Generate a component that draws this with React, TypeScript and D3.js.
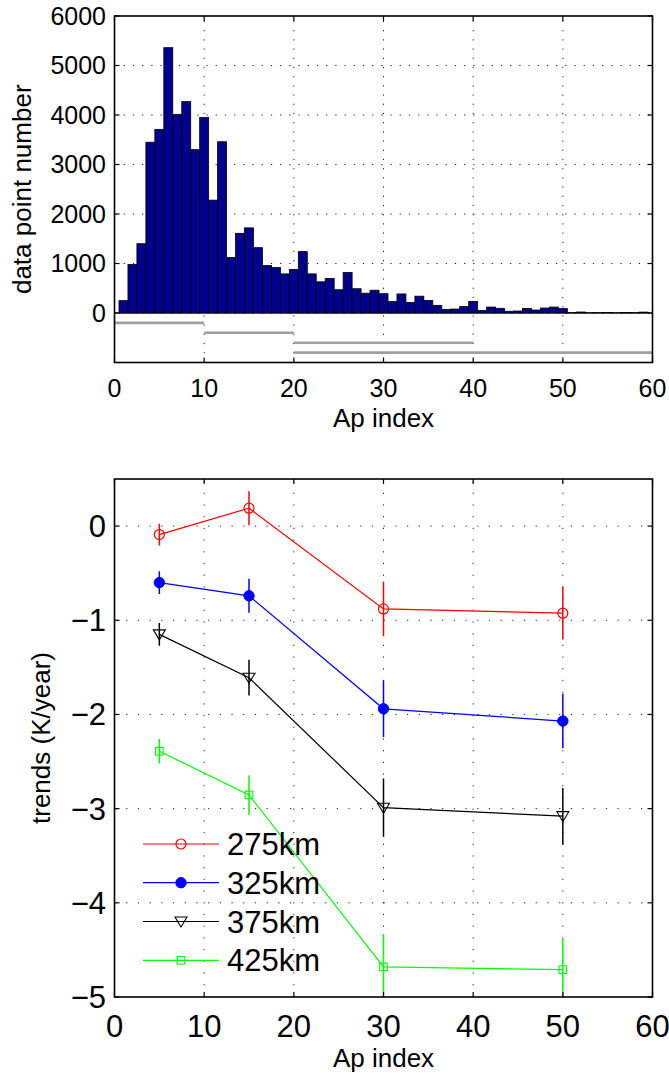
import React, { useRef, useEffect } from 'react';
import * as d3 from 'd3';

// histogram of Ap index (bins of width 1 centred on 1..59)
const histCounts = [
  250, 980, 1400, 3450, 3710, 5360, 4010, 4270, 3300, 3950,
  2280, 3460, 1120, 1610, 1720, 1320, 960, 920, 790, 880,
  1240, 790, 630, 700, 470, 820, 490, 400, 460, 390,
  230, 385, 215, 340, 255, 155, 70, 80, 130, 235,
  50, 120, 95, 35, 40, 90, 60, 100, 120, 90,
  8, 20, 6, 8, 12, 6, 12, 8, 18,
];

// Ap ranges used for the trend bins (grey bars under the histogram)
const rangeStart = [0, 10, 20, 20];
const rangeEnd = [10, 20, 40, 60];
const rangeLevel = [-200, -400, -600, -800];

// trends per Ap bin
const apBins = [5, 15, 30, 50];
const altitudes = ['275km', '325km', '375km', '425km'];
const trends275 = [-0.09, 0.19, -0.88, -0.925];
const trends325 = [-0.6, -0.74, -1.94, -2.07];
const trends375 = [-1.15, -1.61, -2.99, -3.08];
const trends425 = [-2.39, -2.855, -4.68, -4.71];
const errors275 = [0.115, 0.18, 0.29, 0.28];
const errors325 = [0.12, 0.18, 0.3, 0.29];
const errors375 = [0.12, 0.19, 0.31, 0.3];
const errors425 = [0.13, 0.21, 0.35, 0.33];
const seriesColors = ['#ff0000', '#0000ff', '#000000', '#00ff00'];
const seriesMarkers = ['circle', 'dot', 'triangle', 'square'];

const xTicks = [0, 10, 20, 30, 40, 50, 60];
const histYTicks = [0, 1000, 2000, 3000, 4000, 5000, 6000];
const trendYTicks = [-5, -4, -3, -2, -1, 0];

const FONT = '"Liberation Sans", Arial, Helvetica, sans-serif';

const drawFrame = (g, x, y, xt, yt, dash) => {
  const [x0, x1] = x.range();
  const [y0, y1] = y.range();
  const xd = x.domain();
  const yd = y.domain();

  // dotted grid
  g.append('g')
    .selectAll('line')
    .data(xt.filter(t => t > xd[0] && t < xd[1]))
    .enter().append('line')
    .attr('x1', d => x(d)).attr('x2', d => x(d))
    .attr('y1', y0).attr('y2', y1)
    .style('stroke', '#000').style('stroke-width', 0.9)
    .style('stroke-dasharray', dash);
  g.append('g')
    .selectAll('line')
    .data(yt.filter(t => t > yd[0] && t < yd[1]))
    .enter().append('line')
    .attr('y1', d => y(d)).attr('y2', d => y(d))
    .attr('x1', x0).attr('x2', x1)
    .style('stroke', '#000').style('stroke-width', 0.9)
    .style('stroke-dasharray', dash);
};

const drawBox = (g, x, y, xt, yt) => {
  const [x0, x1] = x.range();
  const [y0, y1] = y.range();
  const tick = 5;
  xt.forEach(t => {
    g.append('line').attr('x1', x(t)).attr('x2', x(t)).attr('y1', y0).attr('y2', y0 - tick)
      .style('stroke', '#000').style('stroke-width', 1.2);
    g.append('line').attr('x1', x(t)).attr('x2', x(t)).attr('y1', y1).attr('y2', y1 + tick)
      .style('stroke', '#000').style('stroke-width', 1.2);
  });
  yt.forEach(t => {
    g.append('line').attr('y1', y(t)).attr('y2', y(t)).attr('x1', x0).attr('x2', x0 + tick)
      .style('stroke', '#000').style('stroke-width', 1.2);
    g.append('line').attr('y1', y(t)).attr('y2', y(t)).attr('x1', x1).attr('x2', x1 - tick)
      .style('stroke', '#000').style('stroke-width', 1.2);
  });
  g.append('rect')
    .attr('x', x0).attr('y', y1)
    .attr('width', x1 - x0).attr('height', y0 - y1)
    .style('fill', 'none').style('stroke', '#000').style('stroke-width', 1.6);
};

const App = () => {
  const svgRef = useRef(null);

  useEffect(() => {
    const svg = d3.select(svgRef.current);
    svg.selectAll('*').remove();
    const fmt = d3.format('d');

    // ---------- top: histogram ----------
    const x1 = d3.scaleLinear().domain([0, 60]).range([114.5, 652.5]);
    const y1 = d3.scaleLinear().domain([-1000, 6000]).range([362.5, 16]);
    const top = svg.append('g');

    drawFrame(top, x1, y1, xTicks, histYTicks, '1.2,8');

    top.append('line')
      .attr('x1', x1(0)).attr('x2', x1(60))
      .attr('y1', y1(0)).attr('y2', y1(0))
      .style('stroke', '#000').style('stroke-width', 1);

    top.append('g')
      .selectAll('rect')
      .data(histCounts)
      .enter().append('rect')
      .attr('x', (d, i) => x1(i + 0.5))
      .attr('width', x1(1) - x1(0))
      .attr('y', d => y1(d))
      .attr('height', d => y1(0) - y1(d))
      .style('fill', '#00008f')
      .style('stroke', '#000')
      .style('stroke-width', 0.8);

    top.append('g')
      .selectAll('line')
      .data(rangeLevel)
      .enter().append('line')
      .attr('x1', (d, i) => x1(rangeStart[i]))
      .attr('x2', (d, i) => x1(rangeEnd[i]))
      .attr('y1', d => y1(d)).attr('y2', d => y1(d))
      .style('stroke', '#a0a0a0').style('stroke-width', 2.6);

    drawBox(top, x1, y1, xTicks, histYTicks);

    top.append('g')
      .selectAll('text')
      .data(xTicks)
      .enter().append('text')
      .attr('x', d => x1(d)).attr('y', 396.5)
      .attr('text-anchor', 'middle')
      .style('font-family', FONT).style('font-size', '25px')
      .text(d => fmt(d));

    top.append('g')
      .selectAll('text')
      .data(histYTicks)
      .enter().append('text')
      .attr('x', 106).attr('y', d => y1(d) + 8.8)
      .attr('text-anchor', 'end')
      .style('font-family', FONT).style('font-size', '25px')
      .text(d => fmt(d));

    top.append('text')
      .attr('x', (x1(0) + x1(60)) / 2).attr('y', 427)
      .attr('text-anchor', 'middle')
      .style('font-family', FONT).style('font-size', '26px')
      .text('Ap index');

    top.append('text')
      .attr('transform', `translate(31,${(y1(-1000) + y1(6000)) / 2}) rotate(-90)`)
      .attr('text-anchor', 'middle')
      .style('font-family', FONT).style('font-size', '26px')
      .text('data point number');

    // ---------- bottom: trends ----------
    const x2 = d3.scaleLinear().domain([0, 60]).range([114.5, 652.5]);
    const y2 = d3.scaleLinear().domain([-5, 0.5]).range([997, 479]);
    const bot = svg.append('g');

    bot.append('clipPath').attr('id', 'trend-clip')
      .append('rect')
      .attr('x', x2(0)).attr('y', y2(0.5))
      .attr('width', x2(60) - x2(0)).attr('height', y2(-5) - y2(0.5));

    drawFrame(bot, x2, y2, xTicks, trendYTicks, '1.2,10.5');

    const trends = [trends275, trends325, trends375, trends425];
    const errors = [errors275, errors325, errors375, errors425];
    const line = d3.line().x(d => x2(d[0])).y(d => y2(d[1]));
    const plot = bot.append('g').attr('clip-path', 'url(#trend-clip)');

    const drawMarker = (g, kind, color, cx, cy) => {
      if (kind === 'circle') {
        g.append('circle').attr('cx', cx).attr('cy', cy).attr('r', 5)
          .style('fill', 'none').style('stroke', color).style('stroke-width', 1.2);
      } else if (kind === 'dot') {
        g.append('circle').attr('cx', cx).attr('cy', cy).attr('r', 5.2)
          .style('fill', color).style('stroke', color);
      } else if (kind === 'triangle') {
        g.append('path')
          .attr('d', `M${cx - 6},${cy - 4.5} L${cx + 6},${cy - 4.5} L${cx},${cy + 5.5} Z`)
          .style('fill', 'none').style('stroke', color).style('stroke-width', 1.1);
      } else {
        g.append('rect').attr('x', cx - 3.8).attr('y', cy - 3.8)
          .attr('width', 7.6).attr('height', 7.6)
          .style('fill', 'none').style('stroke', color).style('stroke-width', 1.1);
      }
    };

    trends.forEach((vals, s) => {
      const color = seriesColors[s];
      vals.forEach((v, i) => {
        plot.append('line')
          .attr('x1', x2(apBins[i])).attr('x2', x2(apBins[i]))
          .attr('y1', y2(v - errors[s][i])).attr('y2', y2(v + errors[s][i]))
          .style('stroke', color).style('stroke-width', 1.5);
      });
      plot.append('path')
        .datum(vals.map((v, i) => [apBins[i], v]))
        .attr('d', line)
        .style('fill', 'none').style('stroke', color).style('stroke-width', 1.2);
      vals.forEach((v, i) => drawMarker(plot, seriesMarkers[s], color, x2(apBins[i]), y2(v)));
    });

    // legend
    const legendY = [844, 882.7, 921.5, 960.3];
    altitudes.forEach((name, s) => {
      const color = seriesColors[s];
      const ly = legendY[s];
      bot.append('line')
        .attr('x1', 143).attr('x2', 219).attr('y1', ly).attr('y2', ly)
        .style('stroke', color).style('stroke-width', 1.2);
      drawMarker(bot, seriesMarkers[s], color, 181, ly);
      bot.append('text')
        .attr('x', 227).attr('y', ly + 11)
        .style('font-family', FONT).style('font-size', '31px')
        .text(name);
    });

    drawBox(bot, x2, y2, xTicks, trendYTicks);

    bot.append('g')
      .selectAll('text')
      .data(xTicks)
      .enter().append('text')
      .attr('x', d => x2(d)).attr('y', 1036.5)
      .attr('text-anchor', 'middle')
      .style('font-family', FONT).style('font-size', '31px')
      .text(d => fmt(d));

    bot.append('g')
      .selectAll('text')
      .data(trendYTicks)
      .enter().append('text')
      .attr('x', 106).attr('y', d => y2(d) + 11)
      .attr('text-anchor', 'end')
      .style('font-family', FONT).style('font-size', '31px')
      .text(d => fmt(d));

    bot.append('text')
      .attr('x', (x2(0) + x2(60)) / 2).attr('y', 1067)
      .attr('text-anchor', 'middle')
      .style('font-family', FONT).style('font-size', '26px')
      .text('Ap index');

    bot.append('text')
      .attr('transform', `translate(50,${(y2(-5) + y2(0.5)) / 2}) rotate(-90)`)
      .attr('text-anchor', 'middle')
      .style('font-family', FONT).style('font-size', '26px')
      .text('trends (K/year)');
  }, []);

  return (
    <svg
      ref={svgRef}
      width={669}
      height={1075}
      style={{ position: 'absolute', left: 0, top: 0, background: '#fff' }}
    />
  );
};

export default App;
